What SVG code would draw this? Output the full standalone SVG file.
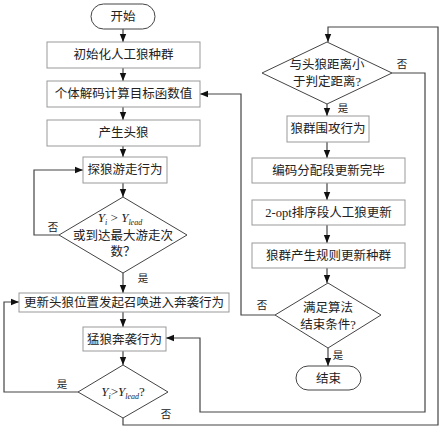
<svg xmlns="http://www.w3.org/2000/svg" width="443" height="430" viewBox="0 0 443 430">
<defs>
<marker id="ah" viewBox="0 0 10 10" refX="10" refY="5" markerWidth="8" markerHeight="8" markerUnits="userSpaceOnUse" orient="auto">
<path d="M0,1 L10,5 L0,9 z" fill="#111"/>
</marker>
<style>
.box{fill:#fff;stroke:#999;stroke-width:1}
.dia{fill:#fff;stroke:#444;stroke-width:1}
.t{font-family:"Liberation Serif","Noto Sans CJK SC",serif;font-size:12.5px;fill:#222;text-anchor:middle}
.lb{font-family:"Liberation Serif","Noto Sans CJK SC",serif;font-size:10.5px;fill:#222;text-anchor:middle}
.f{font-family:"Liberation Serif",serif;font-size:13px;fill:#222;text-anchor:middle}
.c{fill:none;stroke:#444;stroke-width:1.2}
.a{marker-end:url(#ah)}
</style>
</defs>
<rect width="443" height="430" fill="#fff"/>
<g id="connectors">
<path class="c a" d="M123,29 V42"/>
<path class="c a" d="M123,68 V81"/>
<path class="c a" d="M123,107 V120"/>
<path class="c a" d="M123,146 V157"/>
<path class="c a" d="M123,183 V197"/>
<path class="c a" d="M59,235 H34 V170 H83"/>
<path class="c a" d="M123,273 V293"/>
<path class="c a" d="M123,312 V327"/>
<path class="c a" d="M123,351 V365"/>
<path class="c a" d="M78,392 H4 V302 H19"/>
<path class="c a" d="M123,418 V425 H438 V27 H328 V42"/>
<path class="c a" d="M392,73 H425 V412 H200 V338 H166"/>
<path class="c a" d="M327,104 V116"/>
<path class="c a" d="M327,142 V158"/>
<path class="c a" d="M327,183 V200"/>
<path class="c a" d="M327,225 V243"/>
<path class="c a" d="M327,268 V283"/>
<path class="c a" d="M275,315 H241 V94 H200"/>
<path class="c a" d="M328,348 V366"/>
<text class="lb" x="53" y="231">否</text>
<text class="lb" x="143" y="282">是</text>
<text class="lb" x="62" y="388">是</text>
<text class="lb" x="166" y="418">否</text>
<text class="lb" x="402" y="68">否</text>
<text class="lb" x="343" y="112">是</text>
<text class="lb" x="262" y="309">否</text>
<text class="lb" x="338" y="359">是</text>
</g>
<g id="start"><rect class="dia" x="91" y="4" width="64" height="25" rx="12.5"/><text class="t" x="123" y="21">开始</text></g>
<g id="init"><rect class="box" x="47" y="42" width="153" height="26"/><text class="t" x="123.5" y="59">初始化人工狼种群</text></g>
<g id="decode"><rect class="box" x="47" y="81" width="153" height="26"/><text class="t" x="123.5" y="98">个体解码计算目标函数值</text></g>
<g id="head"><rect class="box" x="47" y="120" width="153" height="26"/><text class="t" x="123.5" y="137">产生头狼</text></g>
<g id="scout"><rect class="box" x="83" y="157" width="84" height="26"/><text class="t" x="125" y="174">探狼游走行为</text></g>
<g id="d1"><path class="dia" d="M123,197 L187,235 L123,273 L59,235 Z"/>
<text class="f" x="120" y="222"><tspan font-style="italic">Y</tspan><tspan font-size="8" dy="3" font-style="italic">i</tspan><tspan dy="-3"> &gt; </tspan><tspan font-style="italic">Y</tspan><tspan font-size="8" dy="3" font-style="italic">lead</tspan></text>
<text class="t" x="123" y="240">或到达最大游走次</text>
<text class="t" x="123" y="256">数？</text></g>
<g id="update"><rect class="box" x="19" y="293" width="210" height="19"/><text class="t" x="124" y="307">更新头狼位置发起召唤进入奔袭行为</text></g>
<g id="raid"><rect class="box" x="83" y="327" width="83" height="24"/><text class="t" x="124.5" y="344">猛狼奔袭行为</text></g>
<g id="d2"><path class="dia" d="M123,365 L168,392 L123,418 L78,392 Z"/>
<text class="f" x="123" y="396"><tspan font-style="italic">Y</tspan><tspan font-size="8" dy="3" font-style="italic">i</tspan><tspan dy="-3">&gt;</tspan><tspan font-style="italic">Y</tspan><tspan font-size="8" dy="3" font-style="italic">lead</tspan><tspan dy="-3">?</tspan></text></g>
<g id="d3"><path class="dia" d="M327,42 L392,73 L327,104 L262,73 Z"/>
<text class="t" x="327" y="69">与头狼距离小</text>
<text class="t" x="327" y="86">于判定距离?</text></g>
<g id="siege"><rect class="box" x="287" y="116" width="82" height="26"/><text class="t" x="328" y="133">狼群围攻行为</text></g>
<g id="encode"><rect class="box" x="252" y="158" width="153" height="25"/><text class="t" x="328.5" y="175">编码分配段更新完毕</text></g>
<g id="opt"><rect class="box" x="252" y="200" width="153" height="25"/><text class="t" x="328.5" y="217">2-opt排序段人工狼更新</text></g>
<g id="rule"><rect class="box" x="252" y="243" width="153" height="25"/><text class="t" x="328.5" y="260">狼群产生规则更新种群</text></g>
<g id="d4"><path class="dia" d="M328,283 L381,315 L328,348 L275,315 Z"/>
<text class="t" x="328" y="312">满足算法</text>
<text class="t" x="328" y="329">结束条件?</text></g>
<g id="end"><rect class="dia" x="296" y="366" width="65" height="24" rx="12"/><text class="t" x="328.5" y="383">结束</text></g>
</svg>
